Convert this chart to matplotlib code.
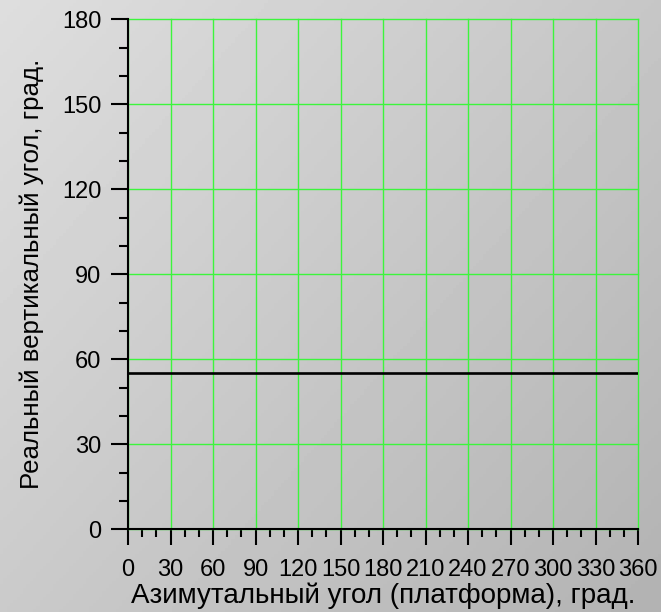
import numpy as np
import matplotlib
matplotlib.use("Agg")
import matplotlib.pyplot as plt
from matplotlib.ticker import MultipleLocator

plt.rcParams['font.family'] = ['Liberation Sans', 'DejaVu Sans']

# Data
azimuth = [0, 360]
vertical_angle = [55, 55]
x_ticks = list(range(0, 361, 30))
y_ticks = list(range(0, 181, 30))
x_label = 'Азимутальный угол (платформа), град.'
y_label = 'Реальный вертикальный угол, град.'

W, H = 661, 612
fig = plt.figure(figsize=(W / 100, H / 100), dpi=100)

# gradient background
bg = fig.add_axes([0, 0, 1, 1], zorder=-10)
yy, xx = np.mgrid[0:1:200j, 0:1:200j]
t = (xx * 0.55 + yy * 0.45)
c_start, c_end = 0.87, 0.70
grad = c_start + (c_end - c_start) * t
bg.imshow(grad, cmap='gray', vmin=0, vmax=1, aspect='auto', extent=[0, 1, 1, 0])
bg.set_axis_off()

ax = fig.add_axes([128 / W, 1 - 529.3 / H, 510 / W, 510 / H])
ax.set_facecolor('none')

ax.plot(azimuth, vertical_angle, color='black', lw=1.9, zorder=5, solid_capstyle='butt')

ax.set_xlim(0, 360)
ax.set_ylim(0, 180)
ax.set_xticks(x_ticks)
ax.set_yticks(y_ticks)
ax.xaxis.set_minor_locator(MultipleLocator(10))
ax.yaxis.set_minor_locator(MultipleLocator(10))

ax.grid(True, which='major', color='#3cf53c', lw=1.0, zorder=1)
for gl in ax.get_xgridlines() + ax.get_ygridlines():
    gl.set_clip_on(False)
for s in ['top', 'right']:
    ax.spines[s].set_visible(False)
for s in ['left', 'bottom']:
    ax.spines[s].set_linewidth(1.5)
    ax.spines[s].set_color('black')
    ax.spines[s].set_zorder(6)

ax.tick_params(axis='x', which='major', length=11.5, width=1.5, pad=10, labelsize=17, direction='out')
ax.tick_params(axis='x', which='minor', length=5.5, width=1.5, direction='out')
ax.tick_params(axis='y', which='major', length=12, width=1.5, pad=7, labelsize=17, direction='out')
ax.tick_params(axis='y', which='minor', length=6.5, width=1.5, direction='out')

ax.set_xlabel(x_label, fontsize=20, labelpad=1)
ax.set_ylabel(y_label, fontsize=18.6, labelpad=13)

fig.savefig('out.png', dpi=100)
